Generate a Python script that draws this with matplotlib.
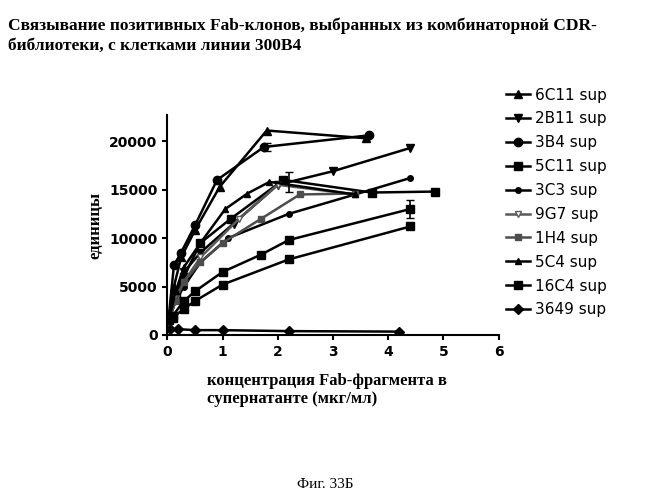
import matplotlib
matplotlib.use("Agg")
import matplotlib.pyplot as plt

# series data (concentration, units)
names = ["6C11 sup", "2B11 sup", "3B4 sup", "5C11 sup", "3C3 sup",
         "9G7 sup", "1H4 sup", "5C4 sup", "16C4 sup", "3649 sup"]
x_6c11 = [0.02, 0.12, 0.25, 0.5, 0.95, 1.8, 3.6]
y_6c11 = [1500, 5000, 8000, 10800, 15300, 21100, 20300]
x_2b11 = [0.03, 0.15, 0.3, 0.6, 1.2, 2.0, 3.0, 4.4]
y_2b11 = [1500, 4000, 6500, 8500, 11500, 15500, 16900, 19300]
x_3b4 = [0.02, 0.12, 0.25, 0.5, 0.9, 1.75, 3.65]
y_3b4 = [1500, 7200, 8500, 11300, 16000, 19400, 20600]
x_5c11 = [0.03, 0.15, 0.3, 0.6, 1.15, 2.1, 3.7, 4.85]
y_5c11 = [1500, 4000, 6000, 9500, 12000, 16000, 14700, 14800]
x_3c3 = [0.03, 0.15, 0.3, 0.6, 1.1, 2.2, 3.4, 4.4]
y_3c3 = [1500, 3500, 5000, 7500, 10000, 12500, 14500, 16200]
x_9g7 = [0.03, 0.15, 0.3, 0.6, 1.3, 2.0, 3.4]
y_9g7 = [1500, 3800, 5500, 8000, 12000, 15500, 14500]
x_1h4 = [0.03, 0.15, 0.3, 0.6, 1.0, 1.7, 2.4, 3.4]
y_1h4 = [1500, 3500, 5500, 7500, 9500, 12000, 14500, 14600]
x_5c4 = [0.03, 0.15, 0.3, 0.6, 1.05, 1.45, 1.85, 3.4]
y_5c4 = [1500, 4500, 7000, 9500, 13000, 14600, 15800, 14500]
x_16c4 = [0.1, 0.3, 0.5, 1.0, 2.2, 4.4]
y_16c4 = [1800, 2700, 3500, 5200, 7800, 11200]
x_1h4b = [0.1, 0.3, 0.5, 1.0, 1.7, 2.2, 4.4]
y_1h4b = [2000, 3500, 4500, 6500, 8300, 9800, 13000]
x_3649 = [0.05, 0.2, 0.5, 1.0, 2.2, 4.2]
y_3649 = [600, 600, 500, 500, 400, 350]
err_x = [1.8, 2.2, 4.4]
err_y = [19400, 15800, 13000]
err_v = [400, 1000, 900]

fig = plt.figure(figsize=(6.51, 5.0), dpi=100)
ax = fig.add_axes([0.257, 0.33, 0.509, 0.44])

serif = "Liberation Serif"
lw = 1.8
ax.plot(x_6c11, y_6c11, "k-^", ms=6, lw=lw, label=names[0])
ax.plot(x_2b11, y_2b11, "k-v", ms=6, lw=lw, label=names[1])
ax.plot(x_3b4, y_3b4, "k-o", ms=6, lw=lw, label=names[2])
ax.plot(x_5c11, y_5c11, "k-s", ms=6, lw=lw, label=names[3])
ax.plot(x_3c3, y_3c3, "k-o", ms=4, lw=lw, label=names[4])
ax.plot(x_9g7, y_9g7, color="0.35", marker="v", mfc="white", ms=5, lw=lw, label=names[5])
ax.plot(x_1h4, y_1h4, color="0.3", marker="s", ms=5, lw=lw, label=names[6])
ax.plot(x_5c4, y_5c4, "k-^", ms=4, lw=lw, label=names[7])
ax.plot(x_16c4, y_16c4, "k-s", ms=6, lw=lw, label=names[8])
ax.plot(x_3649, y_3649, "k-D", ms=5, lw=lw, label=names[9])
ax.plot(x_1h4b, y_1h4b, "k-s", ms=6, lw=lw)
ax.errorbar(err_x, err_y, yerr=err_v, fmt="none", ecolor="k", capsize=3, lw=1.2)

ax.set_xlim(0, 6)
ax.set_ylim(0, 22700)
ax.set_xticks([0, 1, 2, 3, 4, 5, 6])
ax.set_yticks([0, 5000, 10000, 15000, 20000])
ax.spines["top"].set_visible(False)
ax.spines["right"].set_visible(False)
ax.spines["left"].set_linewidth(1.5)
ax.spines["bottom"].set_linewidth(1.5)
ax.tick_params(width=1.5, labelsize=10)
for t in ax.get_xticklabels() + ax.get_yticklabels():
    t.set_fontweight("bold")
ax.set_ylabel("единицы", fontfamily=serif, fontweight="bold", fontsize=12)
ax.set_xlabel("концентрация Fab-фрагмента в\nсупернатанте (мкг/мл)",
              fontfamily=serif, fontweight="bold", fontsize=12, ha="left",
              x=0.12, labelpad=10)
fig.legend(*ax.get_legend_handles_labels(), loc="upper left",
           bbox_to_anchor=(0.765, 0.84), frameon=False, borderpad=0,
           fontsize=11, labelspacing=0.58, handlelength=1.6, handletextpad=0.3)

fig.text(0.012, 0.965, "Связывание позитивных Fab-клонов, выбранных из комбинаторной CDR-\nбиблиотеки, с клетками линии 300B4",
         fontfamily=serif, fontweight="bold", fontsize=12.5, va="top", linespacing=1.3)
fig.text(0.5, 0.025, "Фиг. 33Б", fontfamily=serif, fontsize=11, ha="center")

fig.savefig("out.png", dpi=100)
